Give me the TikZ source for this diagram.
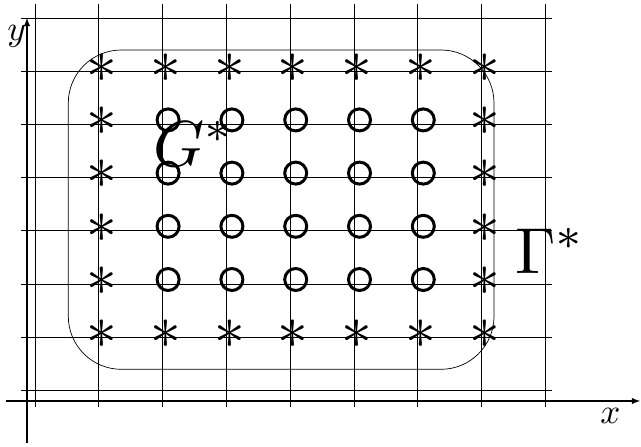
\documentclass[tikz,border=0pt]{standalone}
\usepackage{amsmath}
\usepackage{amssymb}
\usepackage{graphicx}

\newcommand{\bigast}{\scalebox{3.5}{$\ast$}}

\begin{document}
\begin{tikzpicture}[x=0.02cm, y=-0.02cm,
  gridline/.style={line width=0.55pt},
  axisline/.style={line width=0.6pt, ->, >=latex},
  astmark/.style={inner sep=0pt, xshift=0.06cm, yshift=0.06cm},
  ringmark/.style={draw, circle, line width=1.7pt, inner sep=0pt,
    minimum size=0.44cm, xshift=0.11cm, yshift=0.09cm},
  biglabel/.style={inner sep=0pt, anchor=base west},
  axislabel/.style={inner sep=0pt, anchor=base west}]
  \useasboundingbox (0,0) rectangle (641,446);
  % grid
  \foreach \i in {0,...,8}
    \draw[gridline] (35+63.8*\i,4) -- (35+63.8*\i,407);
  \foreach \j in {0,...,7}
    \draw[gridline] (20.7,18+53.2*\j) -- (551.7,18+53.2*\j);
  % axes
  \coordinate (xstart) at (5.7,401);
  \coordinate (xend) at (640,401);
  \coordinate (ystart) at (27,443);
  \coordinate (yend) at (27,18);
  \draw[axisline] (xstart) -- (xend);
  \draw[axisline] (ystart) -- (yend);
  \node[axislabel] (xlab) at (600,423) {\scalebox{2}{$x$}};
  \node[axislabel] (ylab) at (7,41) {\scalebox{2}{$y$}};
  % boundary curve
  \draw[line width=0.4pt, rounded corners=1.06cm] (68.3,50) rectangle (494,369.3);
  % boundary points
  \foreach \i in {1,...,7}
    \foreach \j in {1,6}
      \node[astmark] (s-\i-\j) at (35+63.8*\i,18+53.2*\j) {\bigast};
  \foreach \i in {1,7}
    \foreach \j in {2,...,5}
      \node[astmark] (s-\i-\j) at (35+63.8*\i,18+53.2*\j) {\bigast};
  % interior points
  \foreach \i in {2,...,6}
    \foreach \j in {2,...,5}
      \node[ringmark] (c-\i-\j) at (35+63.8*\i,18+53.2*\j) {};
  \node[biglabel] (glab) at (153,166) {\scalebox{3.7}{$G^{\ast}$}};
  \node[biglabel] (gammalab) at (515,273) {\scalebox{3.7}{$\Gamma^{\ast}$}};
\end{tikzpicture}
\end{document}
